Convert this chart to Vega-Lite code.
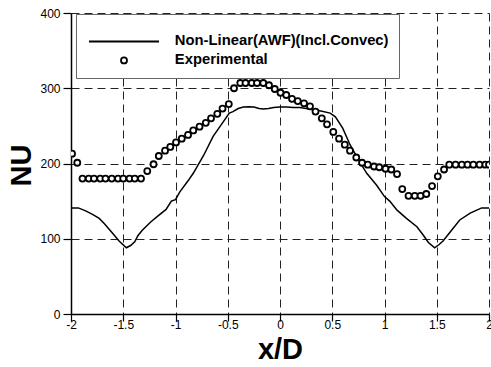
{
  "$schema": "https://vega.github.io/schema/vega-lite/v6.json",
  "width": 418,
  "height": 301,
  "autosize": {"type": "none"},
  "padding": {"left": 71, "top": 13, "right": 2, "bottom": 53},
  "background": "white",
  "config": {
    "view": {"stroke": null},
    "font": "Liberation Sans",
    "axis": {
      "labelFont": "Liberation Sans",
      "labelFontSize": 12,
      "labelColor": "black",
      "domainColor": "black",
      "domainWidth": 1.5,
      "tickColor": "black",
      "tickWidth": 1.2,
      "gridColor": "#222",
      "gridDash": [8, 5],
      "gridWidth": 1,
      "titleFont": "Liberation Sans",
      "titleFontSize": 29,
      "titleFontWeight": "bold",
      "titleColor": "black"
    }
  },
  "datasets": {
    "model": [
      {"x": -2.0, "nu": 141}, {"x": -1.93, "nu": 141}, {"x": -1.86, "nu": 137}, {"x": -1.79, "nu": 132},
      {"x": -1.73, "nu": 127}, {"x": -1.68, "nu": 120}, {"x": -1.6, "nu": 107}, {"x": -1.54, "nu": 97},
      {"x": -1.47, "nu": 88}, {"x": -1.43, "nu": 91}, {"x": -1.39, "nu": 96}, {"x": -1.36, "nu": 104},
      {"x": -1.32, "nu": 111}, {"x": -1.24, "nu": 122}, {"x": -1.17, "nu": 130}, {"x": -1.09, "nu": 139},
      {"x": -1.04, "nu": 150}, {"x": -1.0, "nu": 152}, {"x": -0.96, "nu": 162}, {"x": -0.88, "nu": 177},
      {"x": -0.83, "nu": 187}, {"x": -0.73, "nu": 211}, {"x": -0.64, "nu": 236}, {"x": -0.54, "nu": 256},
      {"x": -0.485, "nu": 267}, {"x": -0.45, "nu": 269}, {"x": -0.4, "nu": 273}, {"x": -0.35, "nu": 275},
      {"x": -0.3, "nu": 275.5}, {"x": -0.25, "nu": 275}, {"x": -0.2, "nu": 273}, {"x": -0.16, "nu": 272.5},
      {"x": -0.11, "nu": 273}, {"x": -0.06, "nu": 274.5}, {"x": 0.0, "nu": 275}, {"x": 0.06, "nu": 275},
      {"x": 0.13, "nu": 274.5}, {"x": 0.19, "nu": 274.5}, {"x": 0.25, "nu": 273}, {"x": 0.29, "nu": 272},
      {"x": 0.38, "nu": 270}, {"x": 0.48, "nu": 267}, {"x": 0.53, "nu": 262}, {"x": 0.6, "nu": 247},
      {"x": 0.67, "nu": 225}, {"x": 0.75, "nu": 205}, {"x": 0.83, "nu": 187}, {"x": 0.925, "nu": 171},
      {"x": 1.0, "nu": 156}, {"x": 1.05, "nu": 150}, {"x": 1.12, "nu": 138}, {"x": 1.21, "nu": 127},
      {"x": 1.31, "nu": 116}, {"x": 1.37, "nu": 105}, {"x": 1.42, "nu": 95}, {"x": 1.48, "nu": 88},
      {"x": 1.52, "nu": 92}, {"x": 1.56, "nu": 97}, {"x": 1.64, "nu": 111}, {"x": 1.72, "nu": 125},
      {"x": 1.82, "nu": 134}, {"x": 1.93, "nu": 141}, {"x": 2.0, "nu": 141}
    ],
    "exp": [
      {"x": -1.99, "nu": 213}, {"x": -1.94, "nu": 201},
      {"x": -1.89, "nu": 180}, {"x": -1.83, "nu": 180}, {"x": -1.78, "nu": 180}, {"x": -1.72, "nu": 180},
      {"x": -1.67, "nu": 180}, {"x": -1.61, "nu": 180}, {"x": -1.55, "nu": 180}, {"x": -1.5, "nu": 180},
      {"x": -1.44, "nu": 180}, {"x": -1.39, "nu": 180}, {"x": -1.33, "nu": 180},
      {"x": -1.27, "nu": 190}, {"x": -1.21, "nu": 199}, {"x": -1.16, "nu": 210}, {"x": -1.1, "nu": 217},
      {"x": -1.05, "nu": 222}, {"x": -0.995, "nu": 228}, {"x": -0.94, "nu": 233}, {"x": -0.88, "nu": 238},
      {"x": -0.83, "nu": 244}, {"x": -0.77, "nu": 249}, {"x": -0.71, "nu": 254}, {"x": -0.66, "nu": 260},
      {"x": -0.6, "nu": 266}, {"x": -0.55, "nu": 273}, {"x": -0.49, "nu": 279},
      {"x": -0.44, "nu": 300}, {"x": -0.38, "nu": 307}, {"x": -0.33, "nu": 307}, {"x": -0.27, "nu": 307},
      {"x": -0.22, "nu": 307}, {"x": -0.16, "nu": 307}, {"x": -0.105, "nu": 304}, {"x": -0.05, "nu": 299},
      {"x": 0.005, "nu": 294}, {"x": 0.06, "nu": 291}, {"x": 0.115, "nu": 286}, {"x": 0.17, "nu": 283},
      {"x": 0.23, "nu": 280}, {"x": 0.287, "nu": 276}, {"x": 0.34, "nu": 269}, {"x": 0.4, "nu": 260},
      {"x": 0.45, "nu": 252}, {"x": 0.51, "nu": 242}, {"x": 0.565, "nu": 233}, {"x": 0.62, "nu": 225},
      {"x": 0.67, "nu": 217}, {"x": 0.73, "nu": 208}, {"x": 0.785, "nu": 201}, {"x": 0.84, "nu": 198.5},
      {"x": 0.9, "nu": 196}, {"x": 0.95, "nu": 195}, {"x": 1.01, "nu": 193}, {"x": 1.065, "nu": 192},
      {"x": 1.12, "nu": 186}, {"x": 1.17, "nu": 166}, {"x": 1.23, "nu": 157}, {"x": 1.29, "nu": 157},
      {"x": 1.345, "nu": 157}, {"x": 1.4, "nu": 159.5}, {"x": 1.455, "nu": 170}, {"x": 1.51, "nu": 183},
      {"x": 1.57, "nu": 192}, {"x": 1.62, "nu": 198.5}, {"x": 1.68, "nu": 198.5}, {"x": 1.74, "nu": 198.5},
      {"x": 1.795, "nu": 198.5}, {"x": 1.85, "nu": 198.5}, {"x": 1.91, "nu": 198.5}, {"x": 1.965, "nu": 198.5},
      {"x": 2.0, "nu": 198.5}
    ]
  },
  "layer": [
    {
      "data": {"name": "model"},
      "transform": [{"calculate": "'Non-Linear(AWF)(Incl.Convec)'", "as": "series"}],
      "mark": {"type": "line", "strokeWidth": 1.5, "clip": true},
      "encoding": {
        "x": {
          "field": "x", "type": "quantitative",
          "scale": {"domain": [-2, 2], "nice": false, "zero": false},
          "axis": {
            "title": "x/D",
            "values": [-2, -1.75, -1.5, -1.25, -1, -0.75, -0.5, -0.25, 0, 0.25, 0.5, 0.75, 1, 1.25, 1.5, 1.75, 2],
            "labelExpr": "datum.value % 0.5 == 0 ? '' + datum.value : ''",
            "tickSize": {"condition": {"test": "datum.value % 0.5 != 0", "value": 4}, "value": 7},
            "gridOpacity": {"condition": {"test": "datum.value % 0.5 != 0 || datum.value == -2", "value": 0}, "value": 1},
            "labelPadding": -2,
            "labelFlush": false,
            "labelOverlap": false,
            "titleX": 209,
            "titleY": 44,
            "titleAnchor": "middle",
            "titleBaseline": "alphabetic"
          }
        },
        "y": {
          "field": "nu", "type": "quantitative",
          "scale": {"domain": [0, 400], "nice": false},
          "axis": {
            "title": "NU",
            "values": [0, 50, 100, 150, 200, 250, 300, 350, 400],
            "labelExpr": "datum.value % 100 == 0 ? datum.label : ''",
            "tickSize": {"condition": {"test": "datum.value % 100 != 0", "value": 5}, "value": 8},
            "gridOpacity": {"condition": {"test": "datum.value % 100 != 0 || datum.value == 0", "value": 0}, "value": 1},
            "labelPadding": 3,
            "labelFlush": false,
            "labelOverlap": false,
            "titleAngle": 270,
            "titleX": -41,
            "titleY": 152,
            "titleAlign": "center",
            "titleBaseline": "alphabetic"
          }
        },
        "color": {
          "field": "series", "type": "nominal",
          "scale": {"domain": ["Non-Linear(AWF)(Incl.Convec)", "Experimental"], "range": ["black", "black"]},
          "legend": {
            "title": " ",
            "titleFontSize": 8,
            "titlePadding": 2,
            "orient": "none",
            "legendX": 5,
            "legendY": 1,
            "strokeColor": "#666",
            "fillColor": "white",
            "padding": 10,
            "symbolType": "stroke",
            "symbolSize": 4900,
            "symbolStrokeWidth": 2,
            "labelFont": "Liberation Sans",
            "labelFontSize": 14.8,
            "labelFontWeight": "bold",
            "labelColor": "black",
            "labelOffset": 74,
            "labelLimit": 400,
            "rowPadding": 3,
            "encode": {
              "symbols": {
                "update": {
                  "shape": {"signal": "datum.value == 'Experimental' ? 'circle' : 'stroke'"},
                  "size": {"signal": "datum.value == 'Experimental' ? 36 : 4900"},
                  "x": {"value": 38},
                  "fill": {"value": "white"},
                  "stroke": {"value": "black"},
                  "strokeWidth": {"signal": "datum.value == 'Experimental' ? 1.8 : 2"}
                }
              }
            }
          }
        }
      }
    },
    {
      "data": {"name": "exp"},
      "transform": [{"calculate": "'Experimental'", "as": "series"}],
      "mark": {"type": "point", "shape": "circle", "filled": false, "fill": "white", "fillOpacity": 1, "size": 36, "strokeWidth": 1.8, "opacity": 1, "clip": true},
      "encoding": {
        "x": {"field": "x", "type": "quantitative"},
        "y": {"field": "nu", "type": "quantitative"},
        "color": {"field": "series", "type": "nominal"}
      }
    }
  ]
}
